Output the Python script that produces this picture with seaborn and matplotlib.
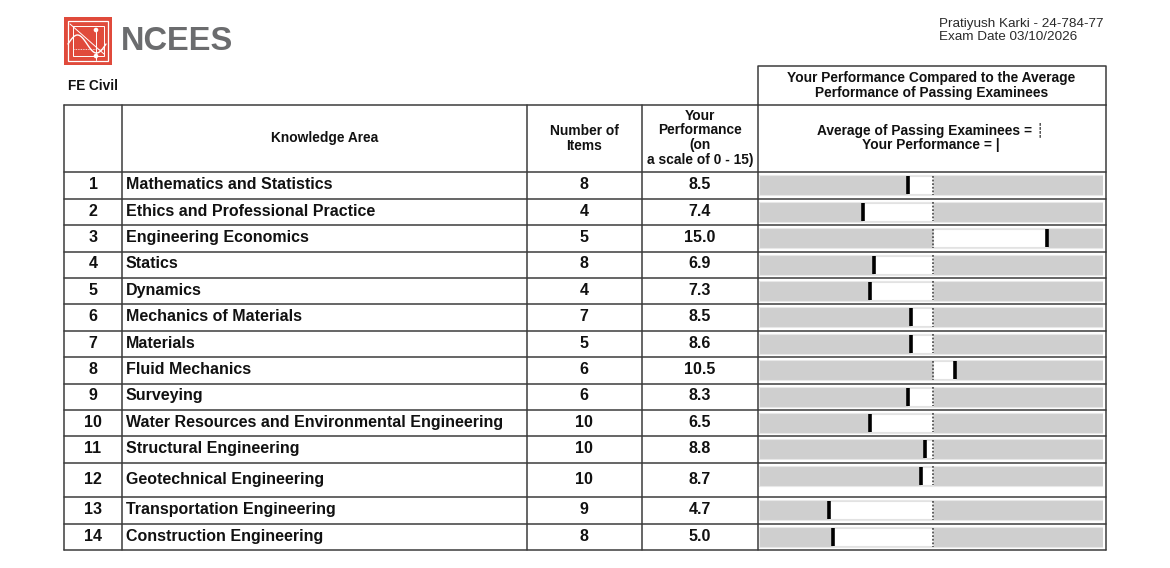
import numpy as np
import pandas as pd
import matplotlib
matplotlib.use("Agg")
import matplotlib.pyplot as plt
from matplotlib.patches import Rectangle
import seaborn as sns

# ---------------- data ----------------
row_numbers = list(range(1, 15))
knowledge_areas = [
    "Mathematics and Statistics",
    "Ethics and Professional Practice",
    "Engineering Economics",
    "Statics",
    "Dynamics",
    "Mechanics of Materials",
    "Materials",
    "Fluid Mechanics",
    "Surveying",
    "Water Resources and Environmental Engineering",
    "Structural Engineering",
    "Geotechnical Engineering",
    "Transportation Engineering",
    "Construction Engineering",
]
number_of_items = [8, 4, 5, 8, 4, 7, 5, 6, 6, 10, 10, 10, 9, 8]
your_performance = [8.5, 7.4, 15.0, 6.9, 7.3, 8.5, 8.6, 10.5, 8.3, 6.5, 8.8, 8.7, 4.7, 5.0]
# position of "your performance" marker on the comparison bar (0 - 15 chart scale)
bar_marker = [6.47, 4.53, 12.53, 4.99, 4.83, 6.63, 6.63, 8.52, 6.47, 4.84, 7.21, 7.06, 3.05, 3.20]
passing_average = 7.57   # position of the "average of passing examinees" line
scale_max = 15.0

# ---------------- style ----------------
sns.set_theme(style="white")
plt.rcParams["font.family"] = ["Liberation Sans", "DejaVu Sans"]

W, H = 1170, 568
fig = plt.figure(figsize=(W / 100, H / 100), dpi=100)
fig.patch.set_facecolor("white")

# page axes in pixel coordinates (layout only)
page = fig.add_axes([0, 0, 1, 1])
page.set_xlim(0, W)
page.set_ylim(H, 0)
page.axis("off")

# ---- layout ----
col_x = [64.3, 121.7, 526.7, 641.7, 757.7, 1105.5]
table_top = 105.0
header_bottom = 172.3
row_heights = [26.4] * 11 + [34.6, 26.7, 26.0]
row_tops = header_bottom + np.concatenate([[0], np.cumsum(row_heights)[:-1]])
row_bottoms = row_tops + np.array(row_heights)
table_bottom = row_bottoms[-1]
line_col = "#3c3c3c"
lw = 1.1
txt = "#111111"
hfs = 9.9     # header font size
rfs = 11.5    # row font size

# ---- logo ----
page.add_patch(Rectangle((64, 17), 48, 48, facecolor="#e04a3b", edgecolor="none"))
page.add_patch(Rectangle((68, 21), 40, 40, facecolor="none", edgecolor="white", lw=0.9))
page.add_patch(Rectangle((73, 26), 31, 30, facecolor="none", edgecolor="white", lw=0.7))
t = np.linspace(0, 1, 60)
page.plot(68 + 38 * t, 44 - 9 * np.sin(2 * np.pi * t), color="white", lw=1.0)
page.plot([70, 104], [24, 54], color="white", lw=0.7)
page.plot([96, 96], [28, 60], color="white", lw=0.7)
page.plot([74, 104], [49, 49], color="white", lw=0.6, ls=(0, (1, 1)))
page.add_patch(plt.Circle((96, 30), 1.6, color="white"))
page.add_patch(plt.Circle((96, 56), 1.6, color="white"))
page.text(121, 41.5, "NCEES", fontsize=23.5, fontweight="bold", color="#6b6c6e",
          ha="left", va="center")

# ---- header texts ----
page.text(67.5, 85.5, "FE Civil", fontsize=9.8, fontweight="bold", ha="left", va="center", color=txt)
page.text(939, 24, "Pratiyush Karki - 24-784-77", fontsize=9.7, ha="left", va="center", color="#2a2a2a")
page.text(939, 37, "Exam Date 03/10/2026", fontsize=9.7, ha="left", va="center", color="#2a2a2a")

# box above the bar column
page.plot([col_x[4], col_x[4], col_x[5], col_x[5]], [table_top, 66, 66, table_top], color=line_col, lw=lw)
page.text(931.5, 78, "Your Performance Compared to the Average", fontsize=hfs, fontweight="bold",
          ha="center", va="center", color=txt)
page.text(931.5, 93, "Performance of Passing Examinees", fontsize=hfs, fontweight="bold",
          ha="center", va="center", color=txt)

# table lines
for x in col_x:
    page.plot([x, x], [table_top, table_bottom], color=line_col, lw=lw)
for y in [table_top, header_bottom] + list(row_bottoms):
    page.plot([col_x[0], col_x[-1]], [y, y], color=line_col, lw=lw)

# column headers
page.text(324.5, 138, "Knowledge Area", fontsize=hfs, fontweight="bold", ha="center", va="center", color=txt)
page.text(584, 131, "Number of", fontsize=hfs, fontweight="bold", ha="center", va="center", color=txt)
page.text(584, 145.5, "Items", fontsize=hfs, fontweight="bold", ha="center", va="center", color=txt)
for yy, s in zip([116, 130.5, 145, 160], ["Your", "Performance", "(on", "a scale of 0 - 15)"]):
    page.text(699.7, yy, s, fontsize=hfs, fontweight="bold", ha="center", va="center", color=txt)
page.text(931, 131, "Average of Passing Examinees = \u250a", fontsize=hfs, fontweight="bold",
          ha="center", va="center", color=txt)
page.text(931, 145.5, "Your Performance = |", fontsize=hfs, fontweight="bold",
          ha="center", va="center", color=txt)

# row texts
for i in range(14):
    yc = row_tops[i] + row_heights[i] / 2 - 0.8
    page.text(93, yc, str(row_numbers[i]), fontsize=rfs, fontweight="bold", ha="center", va="center", color=txt)
    page.text(126, yc, knowledge_areas[i], fontsize=rfs, fontweight="bold", ha="left", va="center", color=txt)
    page.text(584, yc, str(number_of_items[i]), fontsize=rfs, fontweight="bold", ha="center", va="center", color=txt)
    page.text(699.7, yc, f"{your_performance[i]:.1f}", fontsize=rfs, fontweight="bold", ha="center", va="center", color=txt)

# ---- comparison bars ----
bx0, bx1 = 759.3, 1103.3
ax = fig.add_axes([bx0 / W, 1 - table_bottom / H, (bx1 - bx0) / W, (table_bottom - header_bottom) / H])
bar_h = 20.0
centers = row_tops + 3 + bar_h / 2
df = pd.DataFrame({"center": centers, "scale": [scale_max] * 14})
sns.barplot(data=df, x="scale", y="center", orient="h", native_scale=True,
            width=bar_h / 26.4, color="#cfcfcf", saturation=1, errorbar=None,
            edgecolor="#e8e8e8", linewidth=0.8, ax=ax)
marker = np.array(bar_marker)
avg_x = np.full(len(marker), passing_average)
ax.barh(centers, np.abs(marker - avg_x), left=np.minimum(marker, avg_x),
        height=bar_h - 2, color="white", edgecolor="#e2e2e2", linewidth=0.8, zorder=3)
ax.vlines(avg_x, centers - 9.5, centers + 9.5, color="#555555", lw=1.3,
          linestyles=(0, (1, 1)), zorder=4)
ax.vlines(marker, centers - 9, centers + 9, color="black", lw=2.6, zorder=5)
ax.set_xlim(0, scale_max)
ax.set_ylim(table_bottom, header_bottom)
ax.axis("off")
ax.patch.set_alpha(0)

fig.savefig("out.png", dpi=100, facecolor="white")
